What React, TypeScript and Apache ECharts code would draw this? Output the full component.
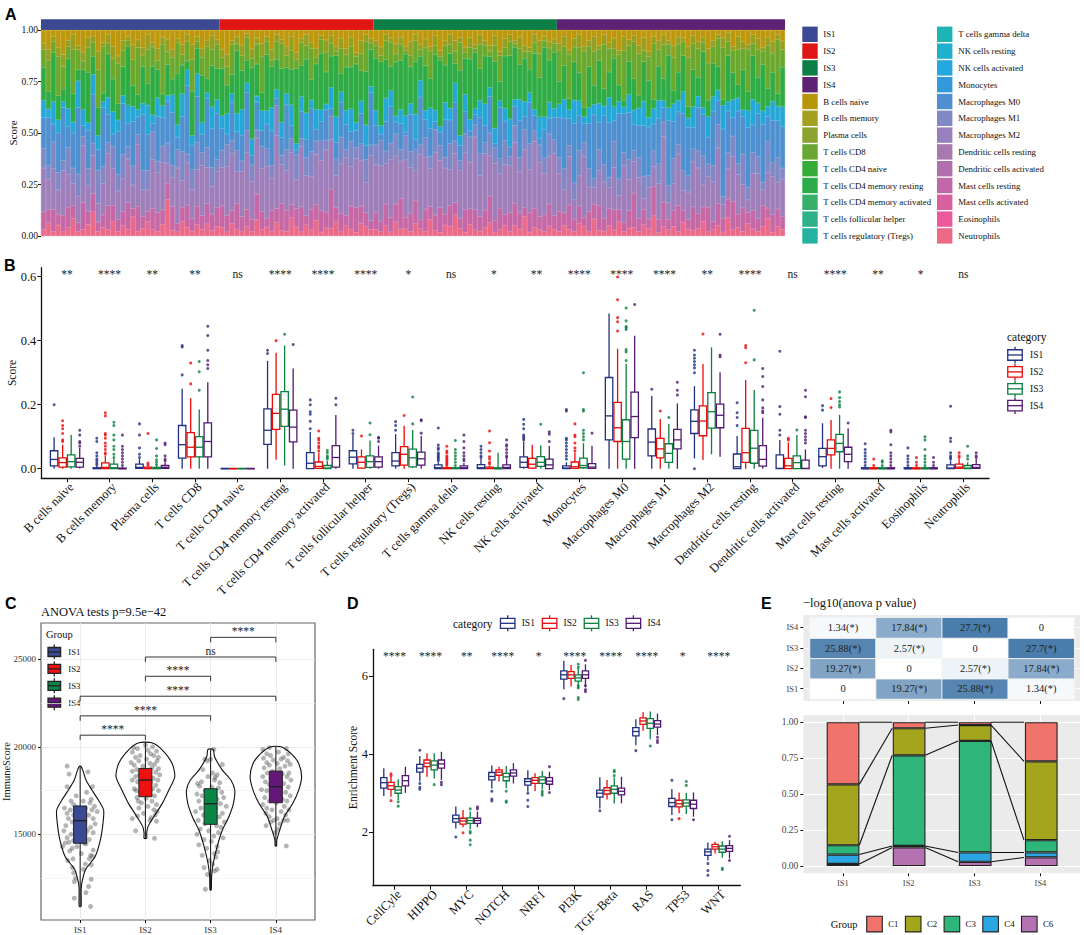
import React, { useEffect, useRef } from "react";
import * as echarts from "echarts";

const SERIF = "Liberation Serif";
const groups = ["IS1", "IS2", "IS3", "IS4"];
const lineColors = ["#22307f", "#ea0a0a", "#0a7f3f", "#4f1a70"];
const fillColors = ["#3B4992", "#EE1111", "#0B8545", "#631879"];

// ---------- Panel A ----------
const groupSizes = [36, 31, 37, 46];
const legendA = ["IS1","IS2","IS3","IS4","B cells naive","B cells memory","Plasma cells","T cells CD8","T cells CD4 naive","T cells CD4 memory resting","T cells CD4 memory activated","T cells follicular helper","T cells regulatory (Tregs)","T cells gamma delta","NK cells resting","NK cells activated","Monocytes","Macrophages M0","Macrophages M1","Macrophages M2","Dendritic cells resting","Dendritic cells activated","Mast cells resting","Mast cells activated","Eosinophils","Neutrophils"];
const legendAColors = ["#3B4992","#E01515","#0B7F45","#5E2275","#B8960C","#A3A020","#8CA22E","#68A832","#35AB3A","#2FAC4A","#35AF6A","#2EB088","#25B2A0","#1EB4B4","#1FB0CE","#25A8E0","#3399D9","#5090D0","#8088C5","#9880BC","#A67AB0","#B070AE","#C068A8","#D8609F","#EC5A9D","#EC6A88"];
const aNaive = [6,9,3,8,12,5,2,7,10,4,3,9,6,2,8,11,5,3,7,4,9,2,6,8,3,5,10,4,7,2,6,3,8,5,2,4,
 9,12,5,3,7,2,8,4,6,3,9,2,5,7,3,10,4,2,6,8,3,5,2,7,4,9,3,12,5,2,4,
 5,8,2,4,7,3,9,5,2,6,4,8,3,11,5,2,6,3,9,4,7,2,5,8,3,10,4,2,6,3,7,9,2,5,3,6,4,
 6,3,9,4,2,7,5,3,8,2,6,4,10,3,5,2,7,4,9,3,6,2,5,8,3,4,7,2,6,3,9,5,2,4,1,8,3,5,7,2,4,9,3,6,2,5];
const aPlasma = [3,5,2,4,6,3,7,2,4,5,3,8,2,4,6,3,5,2,7,3,4,6,2,5,3,7,4,2,5,3,6,2,4,3,5,2,
 4,6,2,3,5,2,4,3,6,2,5,3,2,4,7,3,2,5,3,4,2,6,3,2,5,3,4,2,6,3,2,
 2,4,3,2,5,3,2,6,3,2,4,2,5,3,2,4,6,2,3,5,2,4,2,3,5,2,4,3,2,5,3,2,4,6,2,3,2,
 3,5,2,4,6,2,3,7,2,4,3,5,2,6,3,2,4,7,2,3,5,4,2,6,3,2,5,3,4,2,7,3,2,5,4,2,6,3,2,4,5,2,3,6,2,4];
const aCD8 = [8,14,5,18,11,6,20,9,4,13,7,16,22,5,10,17,8,3,12,19,6,14,9,4,21,7,11,15,5,9,13,3,8,16,6,10,
 5,9,14,3,7,12,4,10,16,6,3,8,13,5,9,4,11,6,15,3,7,10,5,2,12,6,9,4,8,13,3,
 6,3,9,12,4,7,2,5,10,3,8,13,5,2,9,4,7,11,3,6,2,10,5,3,8,12,4,6,2,7,3,9,5,11,3,6,4,
 14,9,20,7,12,24,10,16,6,18,11,5,15,22,8,13,19,6,10,25,9,14,5,17,12,7,21,10,15,4,18,8,13,26,6,11,16,9,20,5,13,7,17,10,22,8];
const aCD4 = [15,8,22,11,6,24,13,5,18,26,9,12,4,20,16,7,14,28,10,6,19,9,23,12,5,17,8,25,14,4,18,11,21,7,15,13,
 22,14,9,27,18,12,30,16,8,25,19,13,28,11,17,33,15,24,10,20,29,16,12,26,9,21,18,31,14,23,17,
 24,30,18,12,27,21,33,16,25,10,20,14,29,35,17,23,11,26,19,31,28,13,22,16,34,9,24,27,30,15,20,12,26,18,32,21,25,
 10,16,5,18,13,4,20,9,22,7,12,24,8,3,17,11,6,21,15,4,19,9,25,7,12,18,5,14,10,23,8,16,11,3,20,13,6,17,9,19,12,24,7,15,5,18];
const aNK = [8,4,10,6,3,9,5,12,7,4,10,6,3,8,11,5,4,9,7,3,6,12,4,8,5,3,9,6,11,7,4,10,5,3,8,6,
 6,10,4,8,12,5,7,3,9,6,11,4,8,5,10,3,7,12,4,9,6,3,8,11,5,7,10,4,6,9,3,
 7,4,11,8,3,6,9,5,12,7,4,10,6,3,8,5,11,4,9,6,3,7,10,5,8,3,6,12,4,9,7,5,3,10,6,8,4,
 6,9,4,11,7,3,8,5,10,4,12,7,6,3,9,5,8,13,4,7,10,3,6,9,5,11,4,8,6,3,10,7,5,12,4,9,6,3,8,11,5,7,4,10,6,9];
const aM0 = [14,22,8,18,26,10,16,30,5,20,24,9,28,13,6,18,25,11,21,7,29,15,4,19,12,23,27,6,17,31,10,20,8,24,14,19,
 10,5,18,8,12,20,4,14,7,11,16,3,9,19,6,2,13,8,21,5,10,15,3,7,17,12,4,9,14,6,24,
 9,3,14,18,6,11,2,16,5,20,8,13,4,7,17,10,22,6,12,3,5,15,8,19,2,24,9,4,11,16,6,21,7,3,13,8,10,
 18,24,12,28,16,8,22,30,14,20,26,10,32,17,24,9,15,27,20,12,25,6,31,19,14,29,21,8,23,17,13,26,11,34,18,9,24,16,28,12,20,30,10,22,15,19];
const aM1 = [9,6,12,8,5,13,7,10,4,9,6,14,8,5,11,7,12,6,9,4,10,8,13,5,7,11,6,9,14,4,8,12,6,10,7,5,
 8,11,6,9,5,12,7,4,10,8,6,13,5,9,7,11,4,8,12,6,10,5,9,7,13,4,11,6,8,10,5,
 9,12,6,8,11,5,13,7,10,4,9,6,12,8,5,11,7,4,10,13,6,9,5,12,8,7,11,4,10,6,9,13,5,8,7,11,6,
 7,10,5,8,12,6,9,4,11,7,5,13,8,6,10,4,9,12,5,7,11,6,8,13,4,10,7,5,9,12,6,8,11,4,7,10,5,13,6,9,8,4,12,7,10,5];
const aM2 = [20,14,18,11,22,16,10,12,26,13,19,8,15,24,18,12,16,21,11,25,14,9,23,17,20,11,15,27,13,19,12,16,22,18,10,15,
 18,24,27,14,21,30,16,28,19,23,15,32,20,17,25,13,29,18,16,22,26,31,19,14,24,28,17,26,21,13,30,
 22,26,19,29,24,16,31,20,14,27,23,18,33,25,21,15,28,19,30,24,36,17,26,21,29,16,23,20,35,18,27,22,31,25,19,24,28,
 17,11,22,9,14,26,12,8,18,15,10,21,7,25,16,11,19,6,13,9,20,27,8,14,22,10,12,17,24,9,15,19,26,7,13,22,18,10,6,16,21,8,14,20,11,17];
const aMast = [8,6,10,5,8,10,6,4,12,7,9,4,6,11,8,5,7,13,4,10,6,4,10,8,6,9,12,4,7,10,5,8,6,10,6,8,
 10,8,6,11,7,9,5,13,8,4,10,6,14,9,6,8,12,4,10,7,11,8,15,6,9,5,10,13,8,6,4,
 8,5,10,7,9,13,6,8,11,4,10,6,8,13,5,9,7,4,12,8,10,6,8,14,6,10,5,8,13,7,4,10,9,6,8,11,6,
 9,6,11,6,8,4,10,7,13,5,8,10,6,4,9,12,6,8,4,13,7,10,5,8,11,6,4,9,8,6,12,4,10,7,8,14,6,10,5,8,6,11,4,9,7,6];
const aNeut = [3,6,2,5,2,4,8,2,3,6,12,2,4,3,7,2,5,3,9,2,4,6,3,2,5,20,3,2,7,4,2,5,3,6,2,4,
 4,2,6,3,2,5,2,8,3,4,2,6,3,2,9,4,2,5,3,7,2,4,3,6,2,5,3,2,6,4,3,
 3,2,5,2,7,3,4,2,6,3,2,8,3,2,5,4,12,3,2,6,3,2,4,7,2,3,5,2,6,3,9,2,4,3,2,5,3,
 2,5,3,2,6,4,2,8,3,2,5,3,7,2,4,3,2,6,3,9,2,4,3,5,2,7,3,2,4,6,2,3,5,2,8,3,4,2,6,3,2,5,7,2,4,3];
const aBands: [string, number[], string][] = [
  ["Neutrophils", aNeut, "#EC6A88"], ["Mast cells resting", aMast, "#C668A6"], ["Macrophages M2", aM2, "#9F7FBA"],
  ["Macrophages M1", aM1, "#8088C5"], ["Macrophages M0", aM0, "#4F90D0"], ["NK cells activated", aNK, "#25A8D8"],
  ["T cells CD4 memory resting", aCD4, "#2FAC45"], ["T cells CD8", aCD8, "#6BA92E"], ["Plasma cells", aPlasma, "#95A020"], ["B cells naive", aNaive, "#BE980C"],
];

// ---------- Panel B: [lower whisker, Q1, median, Q3, upper whisker] ----------
const bCats = ["B cells naive","B cells memory","Plasma cells","T cells CD8","T cells CD4 naive","T cells CD4 memory resting","T cells CD4 memory activated","T cells follicular helper","T cells regulatory (Tregs)","T cells gamma delta","NK cells resting","NK cells activated","Monocytes","Macrophages M0","Macrophages M1","Macrophages M2","Dendritic cells resting","Dendritic cells activated","Mast cells resting","Mast cells activated","Eosinophils","Neutrophils"];
const bSig = ["**","****","**","**","ns","****","****","****","*","ns","*","**","****","****","****","**","****","ns","****","**","*","ns"];
const bBox1 = [[.001,.009,.029,.056,.098],[0,0,.001,.003,.009],[.001,.001,.004,.014,.03],[0,.033,.075,.135,.25],[0,0,0,.001,.001],[0,.076,.12,.187,.337],[0,0,.017,.05,.115],[0,.015,.036,.056,.105],[0,.009,.024,.05,.108],[0,0,.003,.012,.02],[0,0,.003,.013,.03],[0,.004,.02,.037,.085],[0,0,.002,.009,.02],[0,.09,.165,.285,.485],[0,.04,.083,.124,.227],[.032,.11,.148,.184,.258],[0,0,.006,.046,.102],[0,0,.001,.043,.09],[.002,.009,.0375,.0635,.142],[0,0,0,.003,.005],[0,0,0,.003,.006],[0,0,.002,.012,.025]];
const bBox2 = [[0,.005,.019,.034,.075],[0,0,.004,.018,.04],[0,0,.001,.005,.01],[0,.037,.067,.113,.22],[0,0,0,.001,.001],[.028,.123,.173,.232,.362],[0,.001,.007,.021,.05],[0,.002,.02,.037,.06],[0,.011,.045,.069,.134],[0,0,.001,.003,.006],[0,0,.001,.005,.01],[0,.002,.014,.032,.075],[0,.001,.006,.021,.05],[0,.085,.128,.207,.375],[0,.034,.062,.095,.155],[.027,.103,.149,.196,.327],[0,.02,.05,.126,.277],[0,0,.009,.032,.082],[0,.043,.0635,.09,.152],[0,0,0,.003,.005],[0,0,0,.003,.006],[0,.001,.005,.014,.03]];
const bBox3 = [[0,.006,.022,.043,.105],[0,0,.003,.014,.03],[0,0,.001,.004,.009],[0,.037,.067,.1,.185],[0,0,0,.001,.001],[.01,.132,.186,.241,.385],[0,0,.002,.01,.024],[0,.004,.022,.04,.088],[.002,.006,.034,.061,.121],[0,0,.001,.003,.005],[0,0,0,.003,.05],[0,.007,.02,.038,.073],[0,.003,.01,.033,.08],[0,.03,.085,.153,.328],[0,.02,.048,.078,.14],[.045,.127,.178,.2375,.379],[0,.017,.064,.12,.246],[0,0,.019,.04,.105],[0,.053,.079,.107,.168],[0,0,0,.003,.005],[0,0,0,.003,.006],[0,0,.002,.01,.02]];
const bBox4 = [[.001,.005,.02,.032,.065],[0,0,0,.002,.005],[.001,.001,.004,.01,.02],[0,.037,.085,.143,.27],[0,0,0,.001,.001],[0,.084,.13,.183,.313],[0,.005,.035,.072,.168],[0,.005,.022,.037,.072],[0,.011,.031,.052,.102],[0,0,.003,.009,.018],[0,0,.004,.012,.03],[0,0,.012,.03,.071],[0,.001,.005,.016,.072],[0,.097,.163,.239,.415],[0,.062,.09,.123,.204],[.0375,.128,.167,.202,.301],[0,.008,.029,.072,.159],[0,0,.001,.027,.06],[0,.022,.045,.067,.126],[0,0,0,.003,.005],[0,0,0,.003,.006],[.001,.001,.004,.013,.03]];
const bOut1 = [[.2],[.012,.018,.025,.03,.04,.05,.085,.095],[.035,.045,.065,.105,.14],[.293,.38,.385],[],[.36,.37],[.125,.148,.17,.178,.2,.215],[.11,.12],[.12,.135,.147],[.025,.03,.035,.04,.045,.05,.06,.065,.074,.127],[.035,.04,.05,.06,.07],[.09,.095,.1,.105,.125,.139,.154],[.03,.04,.05,.06,.07,.08,.09,.095,.18,.185],[],[.248],[0,.3,.315,.325,.335,.345,.355,.37],[.135,.16,.175,.206],[.105,.12,.17,.194,.367],[.183,.197],[.01,.02,.03,.04,.05,.06,.078],[.01,.02,.03,.04,.065],[.03,.035,.04,.05,.085,.095,.195]];
const bOut2 = [[.085,.09,.11,.125,.135,.15],[.045,.05,.06,.07,.08,.095,.105,.11,.165,.175],[.012,.018,.11],[.265,.33],[],[.4],[.055,.065,.07,.08,.09,.095,.118],[.102],[.166],[.01,.015,.02,.025,.03,.035,.04,.05,.055,.07],[.015,.02,.03,.037,.055,.081,.118],[],[.055,.065,.08,.1,.105,.14],[.43,.459,.472,.528,.599],[.18],[.421],[.331,.378,.385],[.09,.095],[.191,.219],[.01,.03],[.01,.02,.035],[.035,.04,.05]];
const bOut3 = [[],[.035,.045,.06,.07,.09,.105,.135,.145],[.012,.02,.028,.04,.063,.09],[.245,.303,.335],[],[.42],[.03,.035,.04,.05,.057],[.106,.143],[.14,.224],[.01,.02,.03,.04,.05,.06,.088],[],[.139],[.09,.1,.11,.12,.18,.185,.3],[.338,.365,.372,.435,.44,.444,.462,.502],[.16],[],[.34,.495],[.121],[.193,.2,.21,.222,.24],[.01,.02,.025],[.01,.02,.03,.04,.06,.09,.1],[.03,.04,.07]];
const bOut4 = [[.07,.08,.085,.105,.12],[.01,.02,.03,.04,.05,.06,.07,.105],[.025,.03,.04,.075,.08],[.313,.325,.338,.37,.416,.445],[],[.388],[.2,.22],[.085,.095,.098],[.111,.15,.153],[.025,.03,.04,.05,.065,.085,.105],[.035,.04,.05,.06,.07,.075,.09],[.085,.108,.115],[.111],[.513],[.23,.245,.27],[.35,.355,.42],[.175,.18,.19,.215,.257,.288,.313],[.08,.09,.1,.11,.12,.16,.162,.225,.245],[.143],[.01,.02,.03,.04,.05,.075,.115,.12],[.01,.02,.035],[.035,.04,.05]];

// ---------- Panel C ----------
const cBox = [[10875,14487,15780,16616,18900],[14770,17148,18100,18764,20227],[11825,15570,16750,17604,19850],[14335,16806,17720,18612,20000]];
const violin1 = [[10875,.015],[11825,.015],[12205,.025],[12966,.08],[13726,.23],[14677,.31],[15627,.35],[16388,.36],[16958,.28],[17528,.18],[18099,.09],[18669,.04],[18897,.01]];
const violin2 = [[14770,.02],[15057,.02],[15437,.04],[16007,.13],[16768,.26],[17528,.36],[18289,.45],[19049,.41],[19809,.26],[20227,.10]];
const violin3 = [[11825,.01],[12586,.015],[13346,.04],[14297,.10],[15247,.18],[16007,.28],[16768,.35],[17528,.37],[18099,.31],[18669,.18],[19429,.06],[19850,.04]];
const violin4 = [[14335,.01],[14677,.015],[15247,.06],[16007,.13],[16768,.26],[17528,.35],[18289,.395],[19049,.35],[19619,.23],[20000,.08]];
const jitter1 = [[-.2,18900],[.12,18570],[-.17,18440],[.19,17720],[-.2,17720],[.1,17400],[-.06,17200],[.17,17000],[-.14,16900],[.05,16900],[.15,16800],[-.1,16700],[.22,16600],[-.24,16500],[-.05,16550],[.08,16500],[.18,16400],[-.15,16400],[.26,16300],[-.2,16200],[-.1,16100],[.13,16100],[-.03,16000],[.2,15900],[-.18,15900],[.07,15800],[-.12,15700],[.23,15600],[-.22,15500],[.02,15500],[.16,15400],[-.08,15300],[-.25,15200],[.11,15200],[.2,15100],[-.14,15000],[.04,14900],[-.2,14800],[.14,14700],[-.1,14650],[-.17,14550],[-.23,14500],[.06,14500],[.09,14450],[-.27,14300],[-.05,14300],[-.12,14200],[.2,14100],[-.16,14050],[.02,13900],[.16,13800],[.19,13750],[-.11,13600],[.14,13600],[-.19,13500],[.08,13300],[.17,13250],[-.12,13100],[.05,13000],[-.1,12800],[-.07,12500],[.17,12430],[-.09,12300],[.13,12015],[.09,11670],[-.09,11350],[.16,10875]];
const jitter2 = [[0,20100],[.11,20000],[-.18,19950],[-.12,19900],[.04,19800],[.17,19750],[-.2,19700],[.08,19600],[-.08,19500],[.13,19500],[.2,19400],[-.15,19400],[.02,19300],[-.1,19200],[.18,19200],[-.22,19100],[.07,19050],[.14,19000],[-.17,18950],[-.04,18900],[.1,18800],[.2,18750],[-.13,18700],[-.2,18600],[.16,18550],[.05,18500],[.22,18400],[-.09,18400],[-.15,18300],[.12,18200],[.19,18100],[-.2,18100],[-.12,18000],[.08,17950],[-.05,17800],[.16,17800],[.03,17700],[-.17,17600],[.11,17600],[-.14,17500],[.2,17500],[-.08,17400],[.06,17300],[.14,17200],[-.13,17100],[.01,17050],[-.11,16900],[.1,16900],[-.06,16800],[.17,16700],[.04,16600],[-.1,16500],[.13,16400],[.18,16300],[-.03,16200],[.15,16100],[-.12,16050],[.09,15950],[-.2,15900],[.07,15800],[.17,15750],[-.15,15200],[.14,14770]];
const jitter3 = [[.05,19850],[-.09,19300],[0,19300],[-.05,19200],[.18,18990],[-.12,18700],[.03,18500],[.1,18400],[-.04,18300],[.07,18250],[.06,18100],[-.14,18000],[.14,17950],[-.2,17900],[-.17,17750],[.02,17700],[.12,17650],[-.08,17500],[.17,17400],[-.21,17300],[.06,17300],[-.13,17200],[.2,17100],[.1,17000],[-.18,16900],[-.06,16800],[.15,16750],[.24,16600],[-.15,16500],[.08,16500],[-.23,16300],[-.02,16300],[.18,16200],[-.11,16100],[.13,16000],[.04,15950],[-.19,15800],[.21,15700],[-.09,15600],[.09,15500],[.16,15400],[-.16,15300],[-.03,15200],[.12,15100],[-.21,15000],[.05,14900],[.19,14800],[-.1,14700],[.01,14600],[-.18,14400],[.1,14300],[-.06,14200],[.11,14000],[.06,13900],[-.13,13800],[.08,13700],[-.02,13500],[.03,13300],[-.1,13100],[.1,13000],[.06,12900],[-.05,12700],[-.08,11860]];
const jitter4 = [[-.2,19850],[-.1,19950],[.16,19900],[.04,19700],[-.14,19600],[.19,19600],[-.08,19500],[.12,19400],[-.19,19350],[-.04,19250],[.08,19300],[.18,19200],[-.14,19100],[.02,19050],[.22,19000],[-.1,18950],[.14,18900],[-.18,18800],[.06,18750],[-.05,18600],[.2,18500],[-.13,18500],[.1,18450],[-.2,18300],[.17,18300],[-.08,18200],[.03,18100],[.23,18100],[-.16,18000],[.12,17900],[-.1,17850],[.19,17700],[-.22,17550],[-.14,17500],[.05,17500],[.15,17400],[-.06,17300],[.22,17200],[-.17,17100],[.1,17000],[-.1,16900],[.17,16900],[.01,16800],[-.2,16700],[.13,16600],[-.14,16500],[.2,16400],[-.06,16400],[.08,16300],[-.15,16200],[.15,16100],[-.1,16000],[.02,15900],[-.03,15800],[.12,15800],[.18,15800],[-.08,15700],[.06,15600],[-.15,15500],[.03,15300],[-.01,15100],[.16,14335]];
const brackets: [number, number, number, string][] = [[1,2,20665,"****"],[1,3,21768,"****"],[1,4,22890,"****"],[2,3,24030,"****"],[2,4,25130,"ns"],[3,4,26254,"****"]];

// ---------- Panel D ----------
const dCats = ["CellCyle","HIPPO","MYC","NOTCH","NRF1","PI3K","TGF\u2212Beta","RAS","TP53","WNT"];
const dSig = ["****","****","**","****","*","****","****","****","*","****"];
const dBox1 = [[2.93,3.13,3.27,3.4,3.64],[3.3,3.54,3.64,3.74,3.95],[2.1,2.26,2.35,2.44,2.66],[3.12,3.34,3.43,3.53,3.71],[3.04,3.21,3.3,3.37,3.59],[5.66,5.92,6.03,6.13,6.39],[2.61,2.9,3.0,3.08,3.41],[4.23,4.47,4.58,4.68,4.89],[2.44,2.66,2.76,2.87,3.11],[1.28,1.41,1.5,1.57,1.74]];
const dBox2 = [[2.91,3.1,3.19,3.28,3.42],[3.42,3.68,3.77,3.85,4.02],[2.13,2.21,2.29,2.36,2.57],[3.3,3.46,3.54,3.6,3.68],[3.06,3.25,3.33,3.4,3.51],[5.73,5.94,6.03,6.11,6.28],[2.84,2.98,3.07,3.14,3.34],[4.6,4.76,4.85,4.93,5.07],[2.49,2.65,2.73,2.82,3.02],[1.46,1.57,1.63,1.69,1.76]];
const dBox3 = [[2.83,3.0,3.08,3.17,3.36],[3.38,3.6,3.72,3.83,4.02],[2.08,2.23,2.3,2.37,2.53],[3.13,3.32,3.42,3.51,3.7],[3.1,3.25,3.34,3.42,3.57],[5.68,5.87,5.95,6.03,6.2],[2.74,3.0,3.1,3.19,3.4],[4.38,4.66,4.79,4.91,5.09],[2.47,2.67,2.75,2.83,3.01],[1.35,1.49,1.57,1.65,1.77]];
const dBox4 = [[3.01,3.19,3.32,3.45,3.68],[3.34,3.64,3.75,3.85,4.06],[2.13,2.23,2.3,2.36,2.53],[3.25,3.44,3.52,3.6,3.77],[3.08,3.23,3.31,3.4,3.55],[5.71,5.94,6.03,6.13,6.3],[2.74,2.96,3.05,3.13,3.42],[4.49,4.69,4.77,4.86,5.04],[2.4,2.61,2.72,2.82,3.02],[1.33,1.51,1.59,1.66,1.8]];
const dOut1 = [[],[3.1,3.15,3.25,4.1],[1.88],[2.8,2.85,3.05],[2.66,2.82,3.0],[5.42],[2.55],[4.09],[2.32,3.33],[.9,1.02,1.2]];
const dOut2 = [[2.81,3.45,3.5],[],[1.99],[],[],[],[],[],[2.35],[]];
const dOut3 = [[2.67,2.78],[3.22],[1.68,1.8,1.98,2.02,2.6],[2.77,2.8,3.05],[2.95,3.0,3.05],[5.4,5.45,5.7,5.75,6.22,6.3],[3.45,3.55,3.58],[4.21],[3.2,3.3],[1.05,1.08]];
const dOut4 = [[],[3.22,3.28],[2.6,2.65],[],[3.02,3.68],[5.6,5.65,5.75,6.4],[],[4.3,4.35,4.43],[2.32],[1.28,1.9]];

// ---------- Panel E ----------
const hmRowIS1 = [0,19.27,25.88,1.34];
const hmRowIS2 = [19.27,0,2.57,17.84];
const hmRowIS3 = [25.88,2.57,0,27.7];
const hmRowIS4 = [1.34,17.84,27.7,0];
const stackC6 = [.015,.13,.03,.06];
const stackC4 = [.065,.01,.065,.035];
const stackC3 = [.065,.63,.775,.085];
const stackC2 = [.423,.188,.11,.548];
const stackC1 = [.432,.042,.02,.272];
const stackNames = ["C1","C2","C3","C4","C6"];
const stackColors = ["#F0746C","#A3A51C","#2EB57A","#2BA6E3","#B572B0"];

const axisFont = (size: number, color = "#111") => ({ fontFamily: SERIF, fontSize: size, color });
function valAxis(gridIndex: number, min: number, max: number, ticks: number[], o: any = {}) {
  return {
    type: "value", gridIndex, min, max, scale: false,
    name: o.name, nameLocation: "middle", nameGap: o.nameGap, nameRotate: o.name ? 90 : undefined, nameMoveOverlap: false,
    nameTextStyle: axisFont(o.nameSize || 11),
    axisLine: { show: !!o.line, onZero: false, lineStyle: { color: "#111", width: 1.3 } },
    axisTick: { show: o.tick !== false, length: o.tickLen || 3, customValues: ticks, lineStyle: { color: o.tickColor || "#111", width: 1 } },
    axisLabel: { show: o.label !== false, customValues: ticks, formatter: o.fmt, rotate: o.rotate || 0, margin: o.margin ?? 4, verticalAlign: o.valign, hideOverlap: false, showMinLabel: true, showMaxLabel: true, ...axisFont(o.size || 10, o.labelColor || "#111") },
    splitLine: { show: !!o.split, lineStyle: { color: o.split, width: o.splitWidth || 1 } },
  };
}
const hidden = (extra: any) => ({ show: false, ...extra });

function boxSeries(xi: number, yi: number, g: number, boxes: number[][]) {
  const offs = [-.3, -.1, .1, .3];
  const color = lineColors[g];
  return {
    type: "custom", name: groups[g], xAxisIndex: xi, yAxisIndex: yi, clip: false, silent: true, z: 3,
    encode: { x: 0, y: [1, 2, 3, 4, 5] },
    data: boxes.map((b, i) => [i + 1 + offs[g], ...b]),
    renderItem: (_: any, api: any) => {
      const x = api.value(0);
      const [lo, q1, med, q3, hi] = [1, 2, 3, 4, 5].map((d) => api.value(d));
      const l = api.coord([x - .087, q3]), r = api.coord([x + .087, q1]);
      const a = api.coord([x, hi]), b = api.coord([x, lo]);
      const m1 = api.coord([x - .087, med]), m2 = api.coord([x + .087, med]);
      const stroke = { stroke: color, lineWidth: 1.3, fill: "none" };
      return { type: "group", children: [
        { type: "line", shape: { x1: a[0], y1: a[1], x2: b[0], y2: b[1] }, style: stroke },
        { type: "rect", shape: { x: l[0], y: l[1], width: r[0] - l[0], height: r[1] - l[1] }, style: { fill: "#fff", stroke: color, lineWidth: 1.3 } },
        { type: "line", shape: { x1: m1[0], y1: m1[1], x2: m2[0], y2: m2[1] }, style: stroke },
      ] };
    },
  };
}
function outlierSeries(xi: number, yi: number, g: number, outs: number[][]) {
  const offs = [-.3, -.1, .1, .3];
  return {
    type: "scatter", xAxisIndex: xi, yAxisIndex: yi, symbolSize: 3, silent: true, z: 2, clip: false,
    itemStyle: { color: lineColors[g] },
    data: outs.flatMap((vs, i) => vs.map((v) => [i + 1 + offs[g], v])),
  };
}
function sigSeries(xi: number, yi: number, y: number, sig: string[]) {
  return {
    type: "custom", xAxisIndex: xi, yAxisIndex: yi, clip: false, silent: true, z: 4,
    encode: { x: 0, y: 1 }, data: sig.map((_, i) => [i + 1, y]),
    renderItem: (p: any, api: any) => {
      const c = api.coord([api.value(0), api.value(1)]);
      return { type: "text", style: { text: sig[p.dataIndex], x: c[0], y: c[1], align: "center", verticalAlign: "middle", fill: "#222", fontFamily: SERIF, fontSize: 11.5 } };
    },
  };
}
function keyBox(cx: number, cy: number, color: string, fill: string, mid: string, w: number, h: number, whisk: number) {
  return [
    { type: "line", shape: { x1: cx, y1: cy - h / 2 - whisk, x2: cx, y2: cy + h / 2 + whisk }, style: { stroke: color, lineWidth: 1.3 } },
    { type: "rect", shape: { x: cx - w / 2, y: cy - h / 2, width: w, height: h }, style: { fill, stroke: color, lineWidth: 1.3 } },
    { type: "line", shape: { x1: cx - w / 2, y1: cy, x2: cx + w / 2, y2: cy }, style: { stroke: mid, lineWidth: 1.3 } },
  ];
}
const gText = (text: string, x: number, y: number, size: number, o: any = {}) => ({
  type: "text", x, y, style: { text, fontFamily: o.family || SERIF, fontSize: size, fontWeight: o.weight, fill: o.fill || "#111", align: o.align || "left", verticalAlign: "middle" },
});

function buildOption() {
  const grid: any[] = [
    { left: 41, width: 744, top: 19.3, height: 10.7 },
    { left: 41, width: 744, top: 30, height: 206 },
    { left: 41.3, width: 947.7, top: 267.7, height: 210.6 },
    { left: 373, width: 367.3, top: 649.3, height: 236.4 },
    { left: 41, width: 274, top: 623, height: 297, show: true, backgroundColor: "#fff", borderColor: "#666", borderWidth: 1.2 },
    { left: 803.3, width: 276.7, top: 615, height: 86, show: true, backgroundColor: "#EBEBEB", borderWidth: 0 },
    { left: 810, width: 264.3, top: 617.7, height: 81.3 },
    { left: 803.3, width: 276.7, top: 715, height: 158.3, show: true, backgroundColor: "#EBEBEB", borderWidth: 0 },
    { left: 810, width: 264.3, top: 715, height: 158.3 },
  ].map((g) => ({ outerBoundsMode: "none", containLabel: false, ...g }));
  const totalCols = groupSizes.reduce((a, b) => a + b, 0);
  const cols = Array.from({ length: totalCols }, (_, i) => String(i));
  const colSum = cols.map((_, i) => aBands.reduce((s, b) => s + (b[1][i] ?? 0), 0));
  const xAxis: any[] = [
    hidden({ type: "value", gridIndex: 0, min: 0, max: totalCols }),
    hidden({ type: "category", gridIndex: 1, data: cols }),
    valAxis(2, .4, 22.6, bCats.map((_, i) => i + 1), { line: true, tickLen: 4, rotate: 45, size: 12.5, margin: 2, valign: "top", fmt: (v: number) => bCats[Math.round(v) - 1] }),
    valAxis(3, .4, 10.6, dCats.map((_, i) => i + 1), { line: true, tickLen: 4, rotate: 45, size: 12.5, margin: 2, valign: "top", fmt: (v: number) => dCats[Math.round(v) - 1] }),
    valAxis(4, .4, 4.6, [1, 2, 3, 4], { size: 9, margin: 5, split: "#EBEBEB", labelColor: "#333", fmt: (v: number) => groups[Math.round(v) - 1] }),
    valAxis(5, .4, 4.6, [1, 2, 3, 4], { label: false, split: "#fff" }),
    hidden({ type: "category", gridIndex: 6, data: groups }),
    valAxis(7, .4, 4.6, [1, 2, 3, 4], { size: 8.5, margin: 5, split: "#fff", labelColor: "#444", fmt: (v: number) => groups[Math.round(v) - 1] }),
    hidden({ type: "category", gridIndex: 8, data: groups }),
  ];
  const yAxis: any[] = [
    hidden({ type: "category", gridIndex: 0, data: ["group"] }),
    valAxis(1, 0, 1, [0, .25, .5, .75, 1], { size: 9.5, margin: 3, fmt: (v: number) => v.toFixed(2), name: "Score", nameGap: 23, nameSize: 11 }),
    valAxis(2, -.03, .628, [0, .2, .4, .6], { line: true, size: 12.5, margin: 5, tickLen: 4, fmt: (v: number) => v.toFixed(1), name: "Score", nameGap: 23, nameSize: 11.5 }),
    valAxis(3, .634, 6.683, [2, 4, 6], { line: true, size: 12.5, margin: 5, tickLen: 4, fmt: (v: number) => String(v), name: "Enrichment Score", nameGap: 14, nameSize: 11.6 }),
    valAxis(4, 10103, 27074, [15000, 20000, 25000], { size: 9, margin: 5, split: "#EBEBEB", labelColor: "#333", fmt: (v: number) => String(v), name: "ImmuneScore", nameGap: 29, nameSize: 10.5 }),
    valAxis(4, 10103, 27074, [12500, 17500, 22500], { label: false, tick: false, split: "#F2F2F2", splitWidth: .7 }),
    valAxis(5, .4, 4.6, [1, 2, 3, 4], { size: 8.5, margin: 5, split: "#fff", labelColor: "#444", fmt: (v: number) => groups[Math.round(v) - 1] }),
    hidden({ type: "category", gridIndex: 6, data: groups }),
    valAxis(7, -.05, 1.05, [0, .25, .5, .75, 1], { size: 9.5, margin: 5, split: "#fff", labelColor: "#444", fmt: (v: number) => v.toFixed(2) }),
    hidden({ type: "value", gridIndex: 8, min: -.05, max: 1.05 }),
  ];
  const series: any[] = [];

  // A
  groupSizes.forEach((n, g) => series.push({ type: "bar", xAxisIndex: 0, yAxisIndex: 0, stack: "strip", barWidth: "100%", silent: true, itemStyle: { color: legendAColors[g] }, data: [n] }));
  aBands.forEach(([name, vals, color]) => series.push({
    type: "bar", name, xAxisIndex: 1, yAxisIndex: 1, stack: "cells", barCategoryGap: 0, silent: true,
    itemStyle: { color, borderColor: color, borderWidth: .4 },
    data: cols.map((_, i) => (vals[i] ?? 0) / colSum[i]),
  }));

  // B
  [bOut1, bOut2, bOut3, bOut4].forEach((o, g) => series.push(outlierSeries(2, 2, g, o)));
  [bBox1, bBox2, bBox3, bBox4].forEach((b, g) => series.push(boxSeries(2, 2, g, b)));
  series.push(sigSeries(2, 2, .608, bSig));

  // D
  [dOut1, dOut2, dOut3, dOut4].forEach((o, g) => series.push(outlierSeries(3, 3, g, o)));
  [dBox1, dBox2, dBox3, dBox4].forEach((b, g) => series.push(boxSeries(3, 3, g, b)));
  series.push(sigSeries(3, 3, 6.5, dSig));

  // C
  [jitter1, jitter2, jitter3, jitter4].forEach((pts, g) => series.push({
    type: "scatter", xAxisIndex: 4, yAxisIndex: 4, symbolSize: 5, silent: true, z: 2, clip: false,
    itemStyle: { color: "#333", opacity: .36 },
    data: pts.map(([dx, v]) => [g + 1 + dx, v]),
  }));
  const violins = [violin1, violin2, violin3, violin4];
  series.push({
    type: "custom", xAxisIndex: 4, yAxisIndex: 4, silent: true, z: 3, encode: { x: 0 }, data: [[1], [2], [3], [4]],
    renderItem: (p: any, api: any) => {
      const x = api.value(0);
      const v = violins[p.dataIndex];
      const pts = [...v.map(([y, w]) => api.coord([x + w, y])), ...[...v].reverse().map(([y, w]) => api.coord([x - w, y]))];
      return { type: "polygon", shape: { points: pts, smooth: .25 }, style: { fill: "none", stroke: "#111", lineWidth: 1.1 } };
    },
  });
  series.push({
    type: "custom", xAxisIndex: 4, yAxisIndex: 4, silent: true, z: 4, encode: { x: 0, y: [1, 2, 3, 4, 5] },
    data: cBox.map((b, i) => [i + 1, ...b]),
    renderItem: (p: any, api: any) => {
      const x = api.value(0);
      const [lo, q1, med, q3, hi] = [1, 2, 3, 4, 5].map((d) => api.value(d));
      const a = api.coord([x, hi]), b = api.coord([x, lo]);
      const l = api.coord([x - .1, q3]), r = api.coord([x + .1, q1]);
      const m = api.coord([x, med]);
      return { type: "group", children: [
        { type: "line", shape: { x1: a[0], y1: a[1], x2: b[0], y2: b[1] }, style: { stroke: "#111", lineWidth: 1 } },
        { type: "rect", shape: { x: l[0], y: l[1], width: r[0] - l[0], height: r[1] - l[1] }, style: { fill: fillColors[p.dataIndex], stroke: "#222", lineWidth: 1 } },
        { type: "line", shape: { x1: l[0], y1: m[1], x2: r[0], y2: m[1] }, style: { stroke: "#222", lineWidth: 1.4 } },
      ] };
    },
  });
  series.push({
    type: "custom", xAxisIndex: 4, yAxisIndex: 4, silent: true, z: 5, encode: { x: [0, 1], y: 2 },
    data: brackets.map(([a, b, y]) => [a, b, y]),
    renderItem: (p: any, api: any) => {
      const l = api.coord([api.value(0), api.value(2)]);
      const r = api.coord([api.value(1), api.value(2)]);
      const drop = api.coord([api.value(0), api.value(2) - 285]);
      return { type: "group", children: [
        { type: "polyline", shape: { points: [[l[0], drop[1]], l, r, [r[0], drop[1]]] }, style: { fill: "none", stroke: "#333", lineWidth: 1 } },
        { type: "text", style: { text: brackets[p.dataIndex][3], x: (l[0] + r[0]) / 2, y: l[1] - 6, align: "center", verticalAlign: "middle", fill: "#222", fontFamily: SERIF, fontSize: 11.5 } },
      ] };
    },
  });

  // E heatmap
  const hmIndex = series.length;
  const hmRows = [hmRowIS1, hmRowIS2, hmRowIS3, hmRowIS4];
  series.push({
    type: "heatmap", xAxisIndex: 6, yAxisIndex: 7, silent: true, z: 3,
    data: hmRows.flatMap((row, y) => row.map((v, x) => [x, y, v])),
    itemStyle: { borderColor: "#F3F3F3", borderWidth: 1 },
    label: { show: true, fontFamily: SERIF, fontSize: 10.5, color: "#222", formatter: (p: any) => (p.value[2] === 0 ? "0" : `${p.value[2]}(*)`) },
  });

  // E stacked bars, bottom to top
  const stacks = [stackC6, stackC4, stackC3, stackC2, stackC1];
  stacks.forEach((vals, s) => series.push({
    type: "bar", name: stackNames[4 - s], xAxisIndex: 8, yAxisIndex: 9, stack: "e", barWidth: 32.7, silent: true, z: 3,
    itemStyle: { color: stackColors[4 - s], borderColor: "#222", borderWidth: 1.1 },
    data: vals,
  }));
  const tops: number[][] = [];
  stacks.forEach((vals, s) => tops.push(vals.map((v, i) => v + (s ? tops[s - 1][i] : 0))));
  const links = tops.flatMap((t) => [0, 1, 2].map((i) => [i + 1 + .25, t[i], i + 2 - .25, t[i + 1]]));
  series.push({
    type: "custom", xAxisIndex: 7, yAxisIndex: 8, silent: true, z: 4, encode: { x: [0, 2], y: [1, 3] }, data: links,
    renderItem: (_: any, api: any) => {
      const a = api.coord([api.value(0), api.value(1)]);
      const b = api.coord([api.value(2), api.value(3)]);
      return { type: "line", shape: { x1: a[0], y1: a[1], x2: b[0], y2: b[1] }, style: { stroke: "#111", lineWidth: 1.1 } };
    },
  });

  // Legends and captions
  const graphic: any[] = [];
  const letter = (t: string, x: number, y: number) => gText(t, x, y, 16, { family: "Liberation Sans", weight: "bold", fill: "#000" });
  graphic.push(letter("A", 5, 14), letter("B", 4, 265), letter("C", 5, 603), letter("D", 347, 603), letter("E", 761, 603));
  legendA.forEach((name, i) => {
    const col = i < 13 ? 0 : 1;
    const row = i % 13;
    const y = 34.3 + row * 16.8;
    graphic.push({ type: "rect", shape: { x: col ? 937 : 802.3, y: y - 7.7, width: 15.4, height: 15.4 }, style: { fill: legendAColors[i] } });
    graphic.push(gText(name, col ? 958.3 : 823.3, y, 8.8));
  });
  graphic.push(gText("category", 1007, 337, 11.5));
  groups.forEach((g, i) => {
    const y = 355 + i * 16.9;
    graphic.push(...keyBox(1015, y, lineColors[i], "#fff", lineColors[i], 14.5, 10.5, 3));
    graphic.push(gText(g, 1030, y, 9.5));
  });
  graphic.push(gText("category", 453, 624, 11.5));
  groups.forEach((g, i) => {
    const x = 507.7 + i * 41.9;
    graphic.push(...keyBox(x, 623.3, lineColors[i], "#fff", lineColors[i], 14.5, 10, 3));
    graphic.push(gText(g, x + 14, 623.3, 9.5));
  });
  graphic.push(gText("ANOVA tests p=9.5e\u221242", 41, 612, 12.5));
  graphic.push(gText("Group", 46, 634, 10.5));
  groups.forEach((g, i) => {
    const y = 652 + i * 16.9;
    graphic.push(...keyBox(54.3, y, "#222", fillColors[i], "#222", 12.6, 9, 3));
    graphic.push(gText(g, 68.3, y, 8.8));
  });
  graphic.push(gText("\u2212log10(anova p value)", 803, 603, 12.5));
  graphic.push(gText("Group", 830.7, 924, 10.5));
  stackNames.forEach((name, i) => {
    const x = 866.7 + i * 38.7;
    graphic.push({ type: "rect", shape: { x, y: 916.3, width: 15.6, height: 15.6 }, style: { fill: stackColors[i], stroke: "#222", lineWidth: 1.1 } });
    graphic.push(gText(name, x + 21.5, 924, 8.8));
  });

  return {
    animation: false, backgroundColor: "#fff", textStyle: { fontFamily: SERIF }, tooltip: { show: false },
    grid, xAxis, yAxis, series, graphic: { elements: graphic },
    visualMap: { show: false, type: "continuous", seriesIndex: hmIndex, dimension: 2, min: 0, max: 27.7, inRange: { color: ["#FFFFFF", "#4A7CAC"] } },
  };
}

export default function App() {
  const ref = useRef<HTMLDivElement>(null);
  useEffect(() => {
    document.body.style.margin = "0";
    const chart = echarts.init(ref.current!, undefined, { renderer: "svg" });
    chart.setOption(buildOption() as any);
    return () => chart.dispose();
  }, []);
  return <div ref={ref} style={{ position: "absolute", left: 0, top: 0, width: 1084, height: 935 }} />;
}
